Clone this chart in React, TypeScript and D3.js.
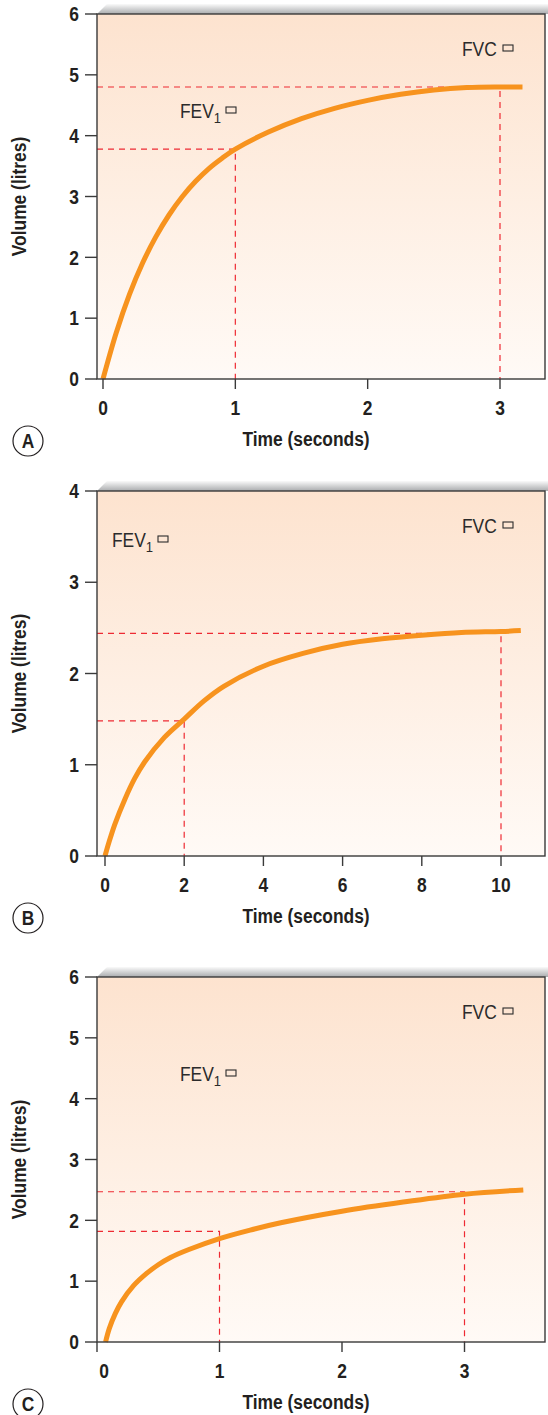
import React from 'react';
import * as d3 from 'd3';

// Panel A
const timeTicksA = [0, 1, 2, 3];
const volumeTicksA = [0, 1, 2, 3, 4, 5, 6];
const timeA = [0, 0.1, 0.2, 0.3, 0.4, 0.5, 0.6, 0.7, 0.8, 0.9, 1.0, 1.25, 1.5, 1.75, 2.0, 2.25, 2.5, 2.75, 3.0, 3.17];
const volumeA = [0, 0.76, 1.39, 1.91, 2.34, 2.7, 3.0, 3.25, 3.46, 3.63, 3.78, 4.06, 4.28, 4.45, 4.58, 4.68, 4.75, 4.79, 4.8, 4.8];
const fevA = [1, 3.78];
const fvcA = [3, 4.8];

// Panel B
const timeTicksB = [0, 2, 4, 6, 8, 10];
const volumeTicksB = [0, 1, 2, 3, 4];
const timeB = [0, 0.1, 0.25, 0.5, 0.75, 1, 1.5, 2, 2.5, 3, 4, 5, 6, 7, 8, 9, 10, 10.5];
const volumeB = [0, 0.15, 0.35, 0.62, 0.85, 1.03, 1.3, 1.5, 1.7, 1.86, 2.08, 2.22, 2.32, 2.38, 2.42, 2.45, 2.46, 2.47];
const fevB = [2, 1.48];
const fvcB = [10, 2.44];

// Panel C
const timeTicksC = [0, 1, 2, 3];
const volumeTicksC = [0, 1, 2, 3, 4, 5, 6];
const timeC = [0.07, 0.1, 0.15, 0.2, 0.3, 0.4, 0.5, 0.6, 0.75, 1, 1.25, 1.5, 2, 2.5, 3, 3.48];
const volumeC = [0, 0.22, 0.47, 0.66, 0.93, 1.12, 1.27, 1.39, 1.52, 1.7, 1.84, 1.96, 2.15, 2.3, 2.43, 2.5];
const fevC = [1, 1.82];
const fvcC = [3, 2.47];

const panelLetters = ['A', 'B', 'C'];

const FONT = '"Liberation Sans", Arial, sans-serif';
const SX = 0.87;

type PanelProps = {
  id: string;
  top: number;
  bottom: number;
  xDomain: [number, number];
  xRange: [number, number];
  yMax: number;
  xTicks: number[];
  yTicks: number[];
  time: number[];
  volume: number[];
  fev: number[];
  fvc: number[];
  fevLabel: [number, number];
  fvcLabel: [number, number];
  letter: string;
  zeroLabelShift?: number;
};

const LEFT = 97;
const RIGHT = 545;

function NText(props: {
  x: number;
  y: number;
  anchor?: string;
  size: number;
  bold?: boolean;
  rotate?: number;
  dy?: string;
  fill?: string;
  children: React.ReactNode;
}) {
  const rot = props.rotate ? ` rotate(${props.rotate})` : '';
  return (
    <text
      transform={`translate(${props.x},${props.y})${rot} scale(${SX},1)`}
      textAnchor={props.anchor || 'start'}
      dy={props.dy}
      fontFamily={FONT}
      fontWeight={props.bold ? 'bold' : 'normal'}
      fontSize={props.size}
      fill={props.fill || '#231f20'}
    >
      {props.children}
    </text>
  );
}

function Panel(p: PanelProps) {
  const x = d3.scaleLinear().domain(p.xDomain).range(p.xRange);
  const y = d3.scaleLinear().domain([0, p.yMax]).range([p.bottom, p.top]);
  const pts = p.time.map((t, i) => [t, p.volume[i]] as [number, number]);
  const line = d3
    .line<[number, number]>()
    .x((d) => x(d[0]))
    .y((d) => y(d[1]))
    .curve(d3.curveCatmullRom.alpha(0.5));
  const midY = (p.top + p.bottom) / 2;
  const dash = { stroke: '#ee2a33', strokeWidth: 1.2, strokeDasharray: '6,5', fill: 'none' };
  return (
    <g>
      <defs>
        <linearGradient id={`bg${p.id}`} x1="0" y1="0" x2="0" y2="1">
          <stop offset="0" stopColor="#fde3cf" />
          <stop offset="1" stopColor="#fffaf6" />
        </linearGradient>
        <linearGradient id={`sh${p.id}`} x1="0" y1="0" x2="0" y2="1">
          <stop offset="0" stopColor="#fafafa" />
          <stop offset="1" stopColor="#a9abad" />
        </linearGradient>
      </defs>
      <polygon
        points={`${LEFT},${p.top} ${LEFT + 10},${p.top - 10} 548,${p.top - 10} 548,${p.top}`}
        fill={`url(#sh${p.id})`}
      />
      <rect x={LEFT} y={p.top} width={RIGHT - LEFT} height={p.bottom - p.top} fill={`url(#bg${p.id})`} />
      {/* dashed guides */}
      <path d={`M${LEFT},${y(p.fev[1])}H${x(p.fev[0])}V${p.bottom}`} {...dash} />
      <path d={`M${LEFT},${y(p.fvc[1])}H${x(p.fvc[0])}V${p.bottom}`} {...dash} />
      {/* curve */}
      <path d={line(pts) || ''} fill="none" stroke="#f7931e" strokeWidth={5} strokeLinecap="butt" />
      {/* frame */}
      <rect
        x={LEFT}
        y={p.top}
        width={RIGHT - LEFT}
        height={p.bottom - p.top}
        fill="none"
        stroke="#3a3a3a"
        strokeWidth={1.4}
      />
      {/* y ticks */}
      {p.yTicks.map((v) => (
        <g key={`y${v}`}>
          <line x1={85} x2={LEFT} y1={y(v)} y2={y(v)} stroke="#3a3a3a" strokeWidth={1.4} />
          <NText x={79} y={y(v)} dy="0.36em" anchor="end" size={20} bold>
            {v}
          </NText>
        </g>
      ))}
      {/* x ticks */}
      {p.xTicks.map((v) => (
        <g key={`x${v}`}>
          <line x1={x(v)} x2={x(v)} y1={p.bottom} y2={p.bottom + 10} stroke="#3a3a3a" strokeWidth={1.4} />
          <NText
            x={x(v) + (v === 0 && p.zeroLabelShift ? p.zeroLabelShift : 0)}
            y={p.bottom + 36}
            anchor="middle"
            size={20}
            bold
          >
            {v}
          </NText>
        </g>
      ))}
      <NText x={306} y={p.bottom + 67} anchor="middle" size={20} bold>
        Time (seconds)
      </NText>
      <NText x={26} y={midY} rotate={-90} anchor="middle" size={20} bold>
        Volume (litres)
      </NText>
      {/* labels */}
      <NText x={p.fevLabel[0]} y={p.top + p.fevLabel[1]} size={20} fill="#2b2b2b">
        FEV
        <tspan fontSize={15} dy={5}>
          1
        </tspan>
      </NText>
      <rect
        x={p.fevLabel[0] + 46}
        y={p.top + p.fevLabel[1] - 11}
        width={10}
        height={6}
        fill="none"
        stroke="#2b2b2b"
        strokeWidth={1.1}
      />
      <NText x={p.fvcLabel[0]} y={p.top + p.fvcLabel[1]} size={20} fill="#2b2b2b">
        FVC
      </NText>
      <rect
        x={p.fvcLabel[0] + 41}
        y={p.top + p.fvcLabel[1] - 11}
        width={10}
        height={6}
        fill="none"
        stroke="#2b2b2b"
        strokeWidth={1.1}
      />
      {/* panel letter */}
      <circle cx={28} cy={p.bottom + 62} r={15} fill="#fff" stroke="#231f20" strokeWidth={1.2} />
      <NText x={28} y={p.bottom + 62} dy="0.36em" anchor="middle" size={20} bold>
        {p.letter}
      </NText>
    </g>
  );
}

export default function App() {
  return (
    <svg width={548} height={1415} style={{ position: 'absolute', left: 0, top: 0, background: '#fff' }}>
      <rect width={548} height={1415} fill="#fff" />
      <Panel
        id="a"
        top={14}
        bottom={379}
        xDomain={[0, 3]}
        xRange={[103, 500]}
        yMax={6}
        xTicks={timeTicksA}
        yTicks={volumeTicksA}
        time={timeA}
        volume={volumeA}
        fev={fevA}
        fvc={fvcA}
        fevLabel={[180, 104]}
        fvcLabel={[462, 42]}
        letter={panelLetters[0]}
      />
      <Panel
        id="b"
        top={491}
        bottom={856}
        xDomain={[0, 10]}
        xRange={[105, 501]}
        yMax={4}
        xTicks={timeTicksB}
        yTicks={volumeTicksB}
        time={timeB}
        volume={volumeB}
        fev={fevB}
        fvc={fvcB}
        fevLabel={[112, 56]}
        fvcLabel={[462, 42]}
        letter={panelLetters[1]}
      />
      <Panel
        id="c"
        top={977}
        bottom={1342}
        xDomain={[0, 3]}
        xRange={[97, 464.5]}
        yMax={6}
        xTicks={timeTicksC}
        yTicks={volumeTicksC}
        time={timeC}
        volume={volumeC}
        fev={fevC}
        fvc={fvcC}
        fevLabel={[180, 104]}
        fvcLabel={[462, 42]}
        letter={panelLetters[2]}
        zeroLabelShift={7}
      />
    </svg>
  );
}
